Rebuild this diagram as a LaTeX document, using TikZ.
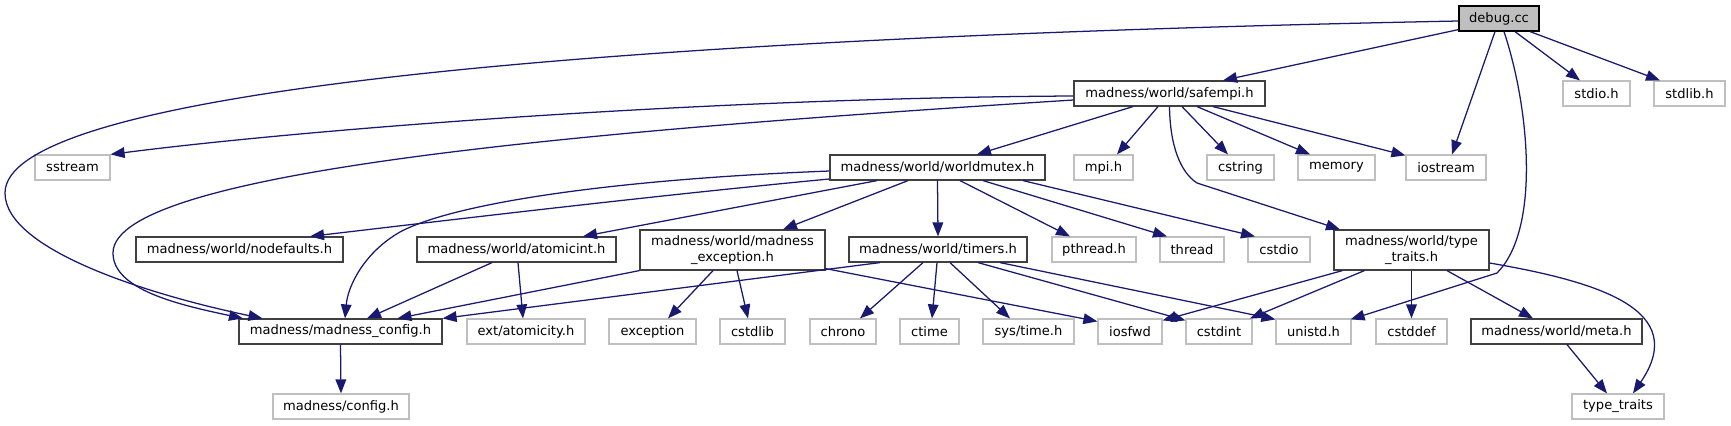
\documentclass[tikz,border=0pt]{standalone}
\usepackage{fontspec}
\setmainfont{DejaVu Sans}
\usetikzlibrary{arrows.meta}
\definecolor{edgeblue}{HTML}{191970}
\definecolor{docborder}{HTML}{404040}
\definecolor{extborder}{HTML}{BFBFBF}
\definecolor{rootfill}{HTML}{BFBFBF}
\begin{document}
\begin{tikzpicture}[x=0.75pt,y=-0.75pt,
  box/.style={fill=white, line width=0.9pt, inner sep=0pt, minimum height=18.75pt,
    font=\fontsize{9.8}{11.5}\selectfont},
  doc/.style={box, draw=docborder},
  ext/.style={box, draw=extborder},
  root/.style={box, draw=black, fill=rootfill},
  tall/.style={minimum height=30pt, align=center},
  dep/.style={draw=edgeblue, line width=0.95pt, -{Triangle[length=10.5pt,width=8pt]}}]
\useasboundingbox (0,0) rectangle (1731,425);

% rank 0
\node[root, minimum width=60pt] (debug) at (1499,18.5) {debug.cc};
% rank 1
\node[doc, minimum width=143.25pt] (safempi) at (1169.5,93.5) {madness/world/safempi.h};
\node[ext, minimum width=50.25pt] (stdio) at (1596.5,93.5) {stdio.h};
\node[ext, minimum width=53.25pt] (stdlib) at (1689.5,93.5) {stdlib.h};
% rank 2
\node[ext, minimum width=56.25pt] (sstream) at (72.5,167.5) {sstream};
\node[doc, minimum width=161.25pt] (worldmutex) at (937.5,167.5) {madness/world/worldmutex.h};
\node[ext, minimum width=44.25pt] (mpi) at (1103.5,167.5) {mpi.h};
\node[ext, minimum width=50.25pt] (cstring) at (1240.5,167.5) {cstring};
\node[ext, minimum width=57.75pt] (memory) at (1336.5,167.5) {memory};
\node[ext, minimum width=60pt] (iostream) at (1446,167.5) {iostream};
% rank 3
\node[doc, minimum width=155.25pt] (nodefaults) at (239.5,249.5) {madness/world/nodefaults.h};
\node[doc, minimum width=149.25pt] (atomicint) at (516.5,249.5) {madness/world/atomicint.h};
\node[doc, tall, minimum width=138.75pt] (mexception) at (732.5,250) {madness/world/madness\\\_exception.h};
\node[doc, minimum width=133.5pt] (timers) at (938,249.5) {madness/world/timers.h};
\node[ext, minimum width=63pt] (pthread) at (1094,249.5) {pthread.h};
\node[ext, minimum width=48pt] (thread) at (1192,249.5) {thread};
\node[ext, minimum width=46.5pt] (cstdio) at (1279,249.5) {cstdio};
\node[doc, tall, minimum width=116.25pt] (typetraitsh) at (1411.5,250) {madness/world/type\\\_traits.h};
% rank 4
\node[doc, minimum width=152.25pt] (mconfig) at (340.5,331.5) {madness/madness\_config.h};
\node[ext, minimum width=88.5pt] (atomicity) at (526,331.5) {ext/atomicity.h};
\node[ext, minimum width=65.25pt] (exception) at (652.5,331.5) {exception};
\node[ext, minimum width=48.75pt] (cstdlib) at (752.5,331.5) {cstdlib};
\node[ext, minimum width=49.5pt] (chrono) at (843,331.5) {chrono};
\node[ext, minimum width=44.25pt] (ctime) at (929.5,331.5) {ctime};
\node[ext, minimum width=68.25pt] (systime) at (1028.5,331.5) {sys/time.h};
\node[ext, minimum width=48pt] (iosfwd) at (1130,331.5) {iosfwd};
\node[ext, minimum width=49.5pt] (cstdint) at (1219,331.5) {cstdint};
\node[ext, minimum width=56.25pt] (unistd) at (1313.5,331.5) {unistd.h};
\node[ext, minimum width=53.25pt] (cstddef) at (1411.5,331.5) {cstddef};
\node[doc, minimum width=128.25pt] (meta) at (1556.5,331.5) {madness/world/meta.h};
% rank 5
\node[ext, minimum width=102pt] (configh) at (341,406.5) {madness/config.h};
\node[ext, minimum width=69pt] (typetraits) at (1618,406.5) {type\_traits};

% edges from debug.cc
\draw[dep] ([shift={(0,2.5)}]debug.west) .. controls (500,40) and (5,100) .. (5,193) .. controls (5,250) and (150,295) .. ([shift={(-78,0)}]mconfig.north);
\draw[dep] ([shift={(0,-2)}]debug.south west) -- ([shift={(53.5,0)}]safempi.north);
\draw[dep] ([shift={(-4,0)}]debug.south) -- ([shift={(6,0)}]iostream.north);
\draw[dep] ([shift={(5,0)}]debug.south) .. controls (1530,110) and (1540,230) .. (1497,273) -- ([shift={(-1,1)}]unistd.north east);
\draw[dep] ([shift={(16,0)}]debug.south) -- ([shift={(-16.5,0)}]stdio.north);
\draw[dep] ([shift={(31,0)}]debug.south) -- ([shift={(-29.5,0)}]stdlib.north);

% edges from safempi
\draw[dep] ([shift={(0,2.5)}]safempi.west) .. controls (700,98) and (300,130) .. (sstream.north east);
\draw[dep] ([shift={(0,6.5)}]safempi.west) .. controls (600,130) and (113,170) .. (113,253) .. controls (113,290) and (180,305) .. ([shift={(-97.5,0)}]mconfig.north);
\draw[dep] ([shift={(-36.5,0)}]safempi.south) -- ([shift={(39.5,0)}]worldmutex.north);
\draw[dep] ([shift={(-11.5,0)}]safempi.south) -- ([shift={(13.5,0)}]mpi.north);
\draw[dep] ([shift={(12.5,0)}]safempi.south) -- ([shift={(-12.5,0)}]cstring.north);
\draw[dep] ([shift={(27.5,0)}]safempi.south) -- ([shift={(-26.5,0)}]memory.north);
\draw[dep] ([shift={(43.5,0)}]safempi.south) -- ([shift={(0,1)}]iostream.north west);
\draw[dep] (safempi.south) .. controls (1170,145) and (1180,172) .. (1197,183) -- ([shift={(-71.5,0)}]typetraitsh.north);

% edges from worldmutex
\draw[dep] ([shift={(0,11.5)}]worldmutex.west) .. controls (650,196) and (450,220) .. ([shift={(70.5,0)}]nodefaults.north);
\draw[dep] ([shift={(0,3.5)}]worldmutex.west) .. controls (600,180) and (450,205) .. (400,232) .. controls (365,252) and (348,285) .. ([shift={(4.5,0)}]mconfig.north);
\draw[dep] ([shift={(-60.5,0)}]worldmutex.south) -- ([shift={(66.5,0)}]atomicint.north);
\draw[dep] ([shift={(-29.5,0)}]worldmutex.south) -- ([shift={(50.5,0)}]mexception.north);
\draw[dep] (worldmutex.south) -- (timers.north);
\draw[dep] ([shift={(22.5,0)}]worldmutex.south) -- ([shift={(-24,0)}]pthread.north);
\draw[dep] ([shift={(45.5,0)}]worldmutex.south) -- ([shift={(-25,0)}]thread.north);
\draw[dep] ([shift={(85.5,0)}]worldmutex.south) -- ([shift={(-24,0)}]cstdio.north);

% edges from atomicint
\draw[dep] ([shift={(-24.5,0)}]atomicint.south) -- ([shift={(26.5,0)}]mconfig.north);
\draw[dep] ([shift={(1.5,0)}]atomicint.south) -- ([shift={(-3,0)}]atomicity.north);

% edges from madness_exception
\draw[dep] (mexception.south west) -- ([shift={(57,0)}]mconfig.north);
\draw[dep] ([shift={(-19.5,0)}]mexception.south) -- ([shift={(15.5,0)}]exception.north);
\draw[dep] ([shift={(4.5,0)}]mexception.south) -- ([shift={(-4.5,0)}]cstdlib.north);
\draw[dep] ([shift={(0,-2)}]mexception.south east) -- ([shift={(0,3)}]iosfwd.north west);

% edges from timers
\draw[dep] ([shift={(-58,0)}]timers.south) -- (mconfig.north east);
\draw[dep] ([shift={(-15,0)}]timers.south) -- ([shift={(17,0)}]chrono.north);
\draw[dep] ([shift={(-1,0)}]timers.south) -- ([shift={(2.5,0)}]ctime.north);
\draw[dep] ([shift={(12,0)}]timers.south) -- ([shift={(-18.5,0)}]systime.north);
\draw[dep] ([shift={(40,0)}]timers.south) -- ([shift={(0,2)}]cstdint.north west);
\draw[dep] ([shift={(62,0)}]timers.south) -- ([shift={(0,1)}]unistd.north west);

% edges from type_traits.h
\draw[dep] ([shift={(9,0)}]typetraitsh.south west) -- ([shift={(0,2)}]iosfwd.north east);
\draw[dep] ([shift={(31,0)}]typetraitsh.south west) -- ([shift={(31,0)}]cstdint.north);
\draw[dep] (typetraitsh.south) -- (cstddef.north);
\draw[dep] ([shift={(35.5,0)}]typetraitsh.south) -- ([shift={(-23.5,0)}]meta.north);
\draw[dep] ([shift={(0,13)}]typetraitsh.east) .. controls (1600,282) and (1690,310) .. ([shift={(15,0)}]typetraits.north);

% remaining
\draw[dep] (mconfig.south) -- (configh.north);
\draw[dep] ([shift={(10.5,0)}]meta.south) -- ([shift={(-11,0)}]typetraits.north);
\end{tikzpicture}
\end{document}
